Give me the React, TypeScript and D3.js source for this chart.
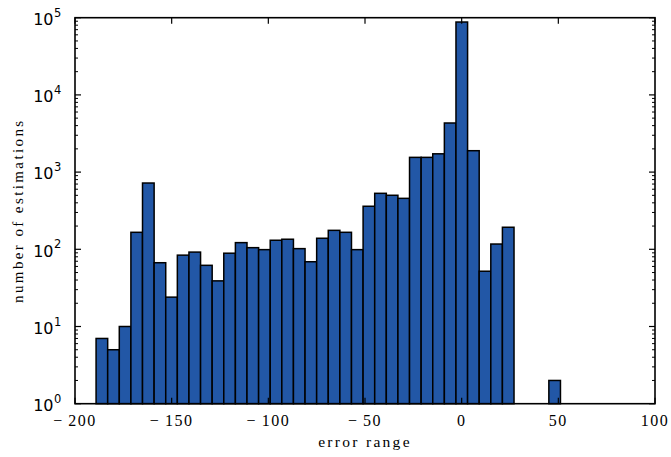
import React from "react";
import * as d3 from "d3";

const binStart = -189.1;
const binEnd = 51.1;
const binCount = 40;
const counts = [7, 5, 10, 166, 722, 67, 24, 84, 92, 62, 39, 89, 122, 105, 99, 131, 135, 102, 69, 139, 176, 166, 99, 361, 531, 501, 457, 1552, 1552, 1725, 4325, 87900, 1893, 52, 117, 193, 0, 0, 0, 2];
const xTicks = [-200, -150, -100, -50, 0, 50, 100];
const yExponents = [0, 1, 2, 3, 4, 5];
const xLabel = "error range";
const yLabel = "number of estimations";

const W = 671, H = 457;
const M = { left: 75, right: 16, top: 17.7, bottom: 53.3 };

export default function App() {
  const x = d3.scaleLinear().domain([-200, 100]).range([M.left, W - M.right]);
  const y = d3.scaleLog().domain([1, 1e5]).range([H - M.bottom, M.top]);
  const bw = (binEnd - binStart) / binCount;
  const bins = counts.map((c, i) => ({ x0: binStart + i * bw, x1: binStart + (i + 1) * bw, c }));
  const minor: number[] = [];
  for (let e = 0; e < 5; e++) for (let k = 2; k <= 9; k++) minor.push(k * Math.pow(10, e));
  const x0 = M.left, x1 = W - M.right, y0 = H - M.bottom, y1 = M.top;
  const fmtX = (v: number) => (v < 0 ? "\u2212\u2009" + Math.abs(v) : String(v));
  return (
    <svg width={W} height={H} style={{ position: "absolute", left: 0, top: 0, background: "#fff" }}>
      {bins.filter(b => b.c > 0).map((b, i) => (
        <rect key={i} x={x(b.x0)} y={y(b.c)} width={x(b.x1) - x(b.x0)} height={y0 - y(b.c)}
          fill="#2257a6" stroke="#000" strokeWidth={1.5} />
      ))}
      <rect x={x0} y={y1} width={x1 - x0} height={y0 - y1} fill="none" stroke="#000" strokeWidth={1.6} />
      {xTicks.map(t => (
        <g key={t}>
          <line x1={x(t)} x2={x(t)} y1={y0} y2={y0 - 6} stroke="#000" strokeWidth={1.2} />
          <line x1={x(t)} x2={x(t)} y1={y1} y2={y1 + 6} stroke="#000" strokeWidth={1.2} />
          <text x={x(t)} y={y0 + 22} textAnchor="middle" fontFamily="'Liberation Serif', serif" fontSize={16}
            letterSpacing={1.5}>{fmtX(t)}</text>
        </g>
      ))}
      {yExponents.map(e => {
        const yy = y(Math.pow(10, e));
        return (
          <g key={e}>
            <line x1={x0} x2={x0 + 6} y1={yy} y2={yy} stroke="#000" strokeWidth={1.2} />
            <line x1={x1} x2={x1 - 6} y1={yy} y2={yy} stroke="#000" strokeWidth={1.2} />
            <text x={53.5} y={yy + 7.3} textAnchor="end" fontFamily="'DejaVu Sans', sans-serif" fontSize={16}>10</text>
            <text x={54} y={yy - 1} textAnchor="start" fontFamily="'DejaVu Sans', sans-serif" fontSize={11.5}>{e}</text>
          </g>
        );
      })}
      {minor.map(v => (
        <g key={v}>
          <line x1={x0} x2={x0 + 3} y1={y(v)} y2={y(v)} stroke="#000" strokeWidth={1} />
          <line x1={x1} x2={x1 - 3} y1={y(v)} y2={y(v)} stroke="#000" strokeWidth={1} />
        </g>
      ))}
      <text x={(x0 + x1) / 2} y={446.5} textAnchor="middle" fontFamily="'Liberation Serif', serif" fontSize={15.5}
        letterSpacing={2.3}>{xLabel}</text>
      <text transform={`translate(23,${(y0 + y1) / 2}) rotate(-90)`} textAnchor="middle"
        fontFamily="'Liberation Serif', serif" fontSize={15} letterSpacing={2.4}>{yLabel}</text>
    </svg>
  );
}
